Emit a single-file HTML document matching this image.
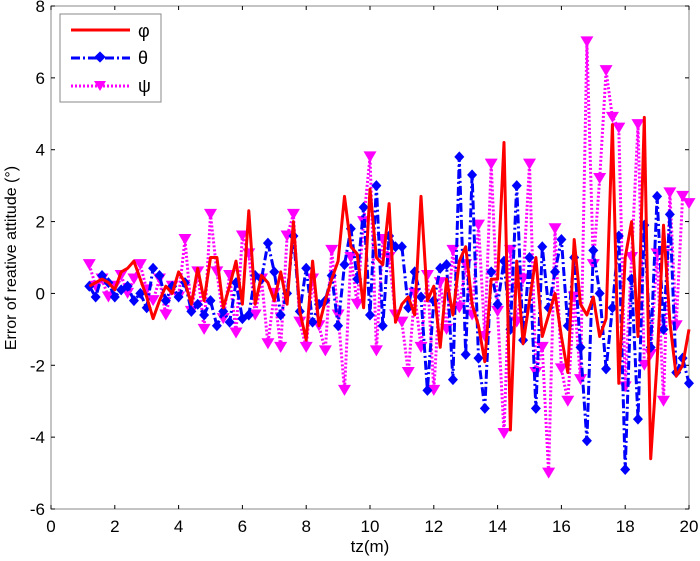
<!DOCTYPE html>
<html><head><meta charset="utf-8"><style>
html,body{margin:0;padding:0;background:#fff;}
svg{display:block;font-family:"Liberation Sans",sans-serif;}
</style></head><body>
<svg id="chart" width="700" height="561">
<rect x="51" y="6" width="638" height="503" fill="#fff" stroke="#888"/>
<g id="ticks"></g>
<g id="series"></g>
<text x="370" y="552" font-size="17" text-anchor="middle">tz(m)</text>
<text transform="translate(16,258) rotate(-90)" font-size="16" text-anchor="middle">Error of reative attitude (°)</text>
<g>
<rect x="60" y="14" width="101" height="88" fill="#fff" stroke="#888"/>
<g><line x1="71" y1="30" x2="130" y2="30" stroke="#f00" stroke-width="3"/><text x="138" y="37" font-size="18">φ</text></g>
<g><line x1="71" y1="58" x2="130" y2="58" stroke="#00f" stroke-width="3" stroke-dasharray="9,3,2,3"/><rect x="96" y="53" width="8" height="8" fill="#00f" transform="rotate(45 100 57)"/><text x="138" y="64" font-size="18">θ</text></g>
<g><line x1="71" y1="86" x2="130" y2="86" stroke="#f0f" stroke-width="3" stroke-dasharray="2,2"/><path d="M94,81 L106,81 L100,91 Z" fill="#f0f"/><text x="138" y="92" font-size="18">ψ</text></g>
</g>
</svg>
<script>
const xTicks=[0,2,4,6,8,10,12,14,16,18,20];
const yTicks=[-6,-4,-2,0,2,4,6,8];
const phi=[0.2,0.3,0.4,0.3,0.1,0.6,0.7,0.9,0.4,-0.1,
-0.7,-0.2,0.2,0.0,0.6,0.3,-0.3,0.7,-0.2,1.0,
1.0,-0.4,0.2,0.9,-0.3,2.3,-0.3,0.5,0.3,-0.2,
0.6,-0.3,2.0,-0.5,-1.3,0.9,-0.9,-0.2,0.4,0.9,
2.7,1.3,1.1,-0.4,2.9,1.0,0.8,2.5,-0.8,-0.3,
-0.1,-0.6,2.7,-0.2,0.2,-1.5,0.4,-0.6,0.9,1.3,
-0.3,-0.9,-1.9,0.4,0.4,4.2,-3.8,0.9,-1.4,-0.2,
1.0,-1.2,-0.6,0.0,-1.2,-2.2,1.5,-0.3,-0.6,-0.1,
-1.2,-0.7,4.7,-2.5,1.0,2.0,-1.2,4.9,-4.6,-1.9,
1.9,-0.8,-2.3,-2.0,-1.0];
const theta=[0.2,-0.1,0.5,0.3,-0.1,0.1,0.2,-0.2,0.0,-0.4,
0.7,0.5,-0.2,0.2,-0.1,0.3,-0.5,-0.3,-0.6,-0.2,
-0.9,-0.5,-0.8,0.3,-0.7,-0.6,0.5,0.4,1.4,0.6,
-0.6,0.0,1.6,-0.5,0.7,-0.8,-0.3,-0.2,0.5,-0.9,
0.8,1.8,0.4,2.4,-0.6,3.0,-0.9,1.6,1.3,1.3,
-0.4,0.6,-0.1,-2.7,-0.2,0.7,0.8,-2.4,3.8,-1.7,
3.3,-1.8,-3.2,0.6,-0.3,0.9,-1.0,3.0,-1.3,1.0,
-3.2,1.3,-0.4,0.6,1.5,-0.9,1.0,-1.5,-4.1,1.2,
0.0,-2.1,-0.4,1.6,-4.9,0.4,-3.5,1.9,-1.5,2.7,
-1.0,2.2,-2.2,-1.8,-2.5];
const psi=[0.8,0.2,0.4,-0.1,0.2,0.5,0.0,0.4,0.8,0.1,
-0.2,0.4,-0.6,0.2,-0.1,1.5,-0.5,0.6,-1.0,2.2,
0.6,-0.7,0.5,-1.1,1.6,1.1,-0.6,0.4,-1.4,0.0,
-1.5,1.6,2.2,-0.8,-1.5,0.4,-0.9,-1.6,1.2,-0.6,
-2.7,1.0,-0.3,2.0,3.8,-1.6,1.5,1.0,-0.6,-0.8,
-2.2,0.0,-1.5,0.5,-2.7,0.3,-1.0,1.2,-0.4,0.8,
-0.6,1.9,-1.2,3.6,-0.5,-3.9,1.2,-0.8,0.4,3.6,
-2.2,-1.5,-5.0,1.8,-2.1,-3.0,-0.1,-2.4,7.0,0.8,
3.2,6.2,4.9,4.6,-2.6,1.0,4.7,-2.0,-1.7,1.1,
-3.0,2.8,-0.9,2.7,2.5];
const xStart=1.2, xStep=0.2;
const NS='http://www.w3.org/2000/svg';
const L=51,R=689,T=6,B=509;
function sx(v){return L+(v-0)/(20-0)*(R-L);}
function sy(v){return B-(v+6)/(8+6)*(B-T);}
function mk(tag,attrs,parent){const e=document.createElementNS(NS,tag);for(const k in attrs)e.setAttribute(k,attrs[k]);parent.appendChild(e);return e;}
const tg=document.getElementById('ticks');
xTicks.forEach(v=>{const x=sx(v);
mk('line',{x1:x,y1:B,x2:x,y2:B-4,stroke:'#000'},tg);
mk('line',{x1:x,y1:T,x2:x,y2:T+4,stroke:'#000'},tg);
const t=mk('text',{x:x,y:B+23,'font-size':17,'text-anchor':'middle'},tg);t.textContent=v;


});
yTicks.forEach(v=>{const y=sy(v);
mk('line',{x1:L,y1:y,x2:L+4,y2:y,stroke:'#000'},tg);
mk('line',{x1:R,y1:y,x2:R-4,y2:y,stroke:'#000'},tg);
const t=mk('text',{x:L-6,y:y+6,'font-size':17,'text-anchor':'end'},tg);t.textContent=v;


});
const sg=document.getElementById('series');
function draw(data,color,dash,marker,name){
const g=mk('g',{},sg);


const pts=data.map((v,i)=>sx(xStart+i*xStep).toFixed(1)+','+sy(v).toFixed(1)).join(' ');
const pl=mk('polyline',{points:pts,fill:'none',stroke:color,'stroke-width':3,'stroke-dasharray':dash,'stroke-linejoin':'round'},g);


if(marker){data.forEach((v,i)=>{const x=sx(xStart+i*xStep),y=sy(v);let m;
if(marker==='d'){m=mk('path',{d:`M${x},${y-5.5}L${x+5},${y}L${x},${y+5.5}L${x-5},${y}Z`,fill:color},g);}
else{m=mk('path',{d:`M${x-6.5},${y-5.5}L${x+6.5},${y-5.5}L${x},${y+5.5}Z`,fill:color},g);}


});}
}
draw(psi,'#f0f','2,2','v','psi-series');
draw(theta,'#00f','9,3,2,3','d','theta-series');
draw(phi,'#f00','none',null,'phi-series');
</script>
</body></html>
